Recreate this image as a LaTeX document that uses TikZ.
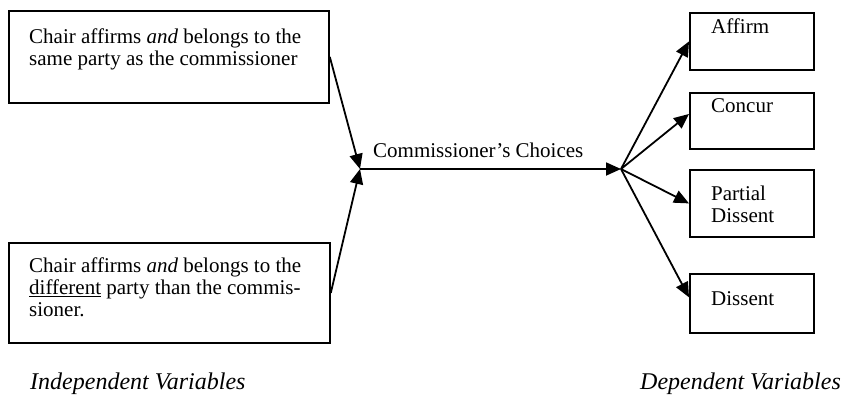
\documentclass[tikz,border=0pt]{standalone}
\usepackage{fontspec}
\setmainfont{Liberation Serif}
\usetikzlibrary{arrows.meta,calc}
\begin{document}
\begin{tikzpicture}[x=1pt,y=-1pt,
  boxstyle/.style={draw,line width=1.8pt,rectangle,inner sep=0,anchor=north west},
  txt/.style={inner sep=0,font=\fontsize{21}{22}\selectfont,align=left},
  lbl/.style={inner sep=0,font=\fontsize{24}{26}\selectfont\itshape,anchor=base west},
  arr/.style={line width=1.8pt,-{Triangle[length=15pt,width=13pt]}},
]
\useasboundingbox (0,0) rectangle (848,397);
% boxes
\node[boxstyle,minimum width=320pt,minimum height=92pt] (ind1) at (8,10) {};
\node[boxstyle,minimum width=321pt,minimum height=100pt] (ind2) at (8,242) {};
\node[boxstyle,minimum width=124pt,minimum height=57pt] (affirm) at (689,12) {};
\node[boxstyle,minimum width=124pt,minimum height=56pt] (concur) at (689,92) {};
\node[boxstyle,minimum width=124pt,minimum height=67pt] (partial) at (689,169) {};
\node[boxstyle,minimum width=124pt,minimum height=59pt] (dissent) at (689,273) {};
% texts
\node[txt,anchor=north west] (t1) at (29,28.7) {Chair affirms \textit{and} belongs to the\\same party as the commissioner};
\node[txt,anchor=north west] (t2) at (29,257.7) {Chair affirms \textit{and} belongs to the\\\underline{different} party than the commis-\\sioner.};
\node[txt,anchor=base west] (ta) at (711,33) {Affirm};
\node[txt,anchor=base west] (tc) at (711,112) {Concur};
\node[txt,anchor=north west] (tp) at (711,185.7) {Partial\\Dissent};
\node[txt,anchor=base west] (td) at (711,305) {Dissent};
\node[txt,anchor=base west] (cc) at (373,157) {Commissioner’s Choices};
\node[lbl] (iv) at (30,389) {Independent Variables};
\node[lbl] (dv) at (640,389) {Dependent Variables};
% connectors
\coordinate (j) at (360,169);
\coordinate (f) at (621,169);
\draw[arr] (ind1.east) -- (j);
\draw[arr] (ind2.east) -- (j);
\draw[arr] (j) -- (f);
\draw[arr] (f) -- (affirm.west);
\draw[arr] (f) -- ($(concur.north west)!0.38!(concur.south west)$);
\draw[arr] (f) -- (partial.west);
\draw[arr] (f) -- ($(dissent.north west)!0.4!(dissent.south west)$);
\end{tikzpicture}
\end{document}
